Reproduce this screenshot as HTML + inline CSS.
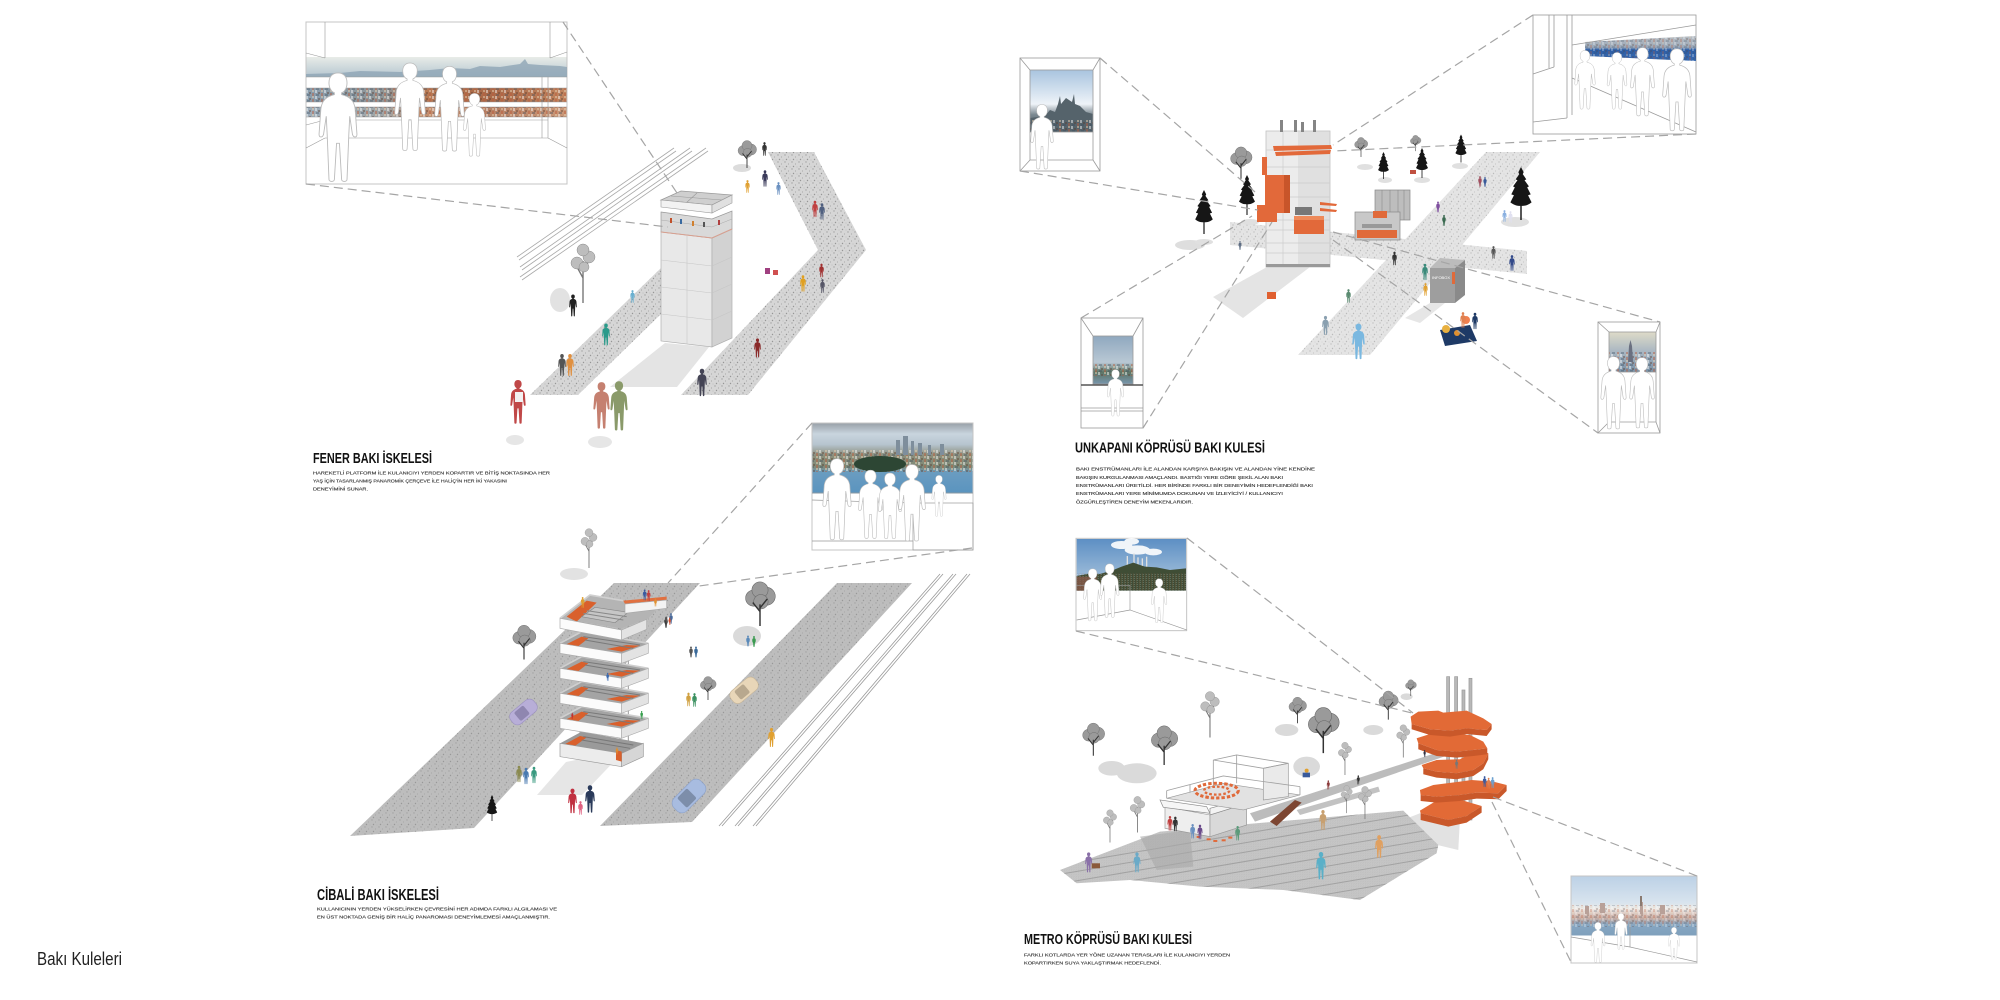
<!DOCTYPE html>
<html><head><meta charset="utf-8"><title>Bakı Kuleleri</title><style>
html,body{margin:0;padding:0;background:#fff;width:2000px;height:1000px;overflow:hidden}
svg{display:block}
.t{font-family:"Liberation Sans Narrow","Liberation Sans",sans-serif;font-weight:bold;fill:#111}
.d{font-family:"Liberation Sans Narrow","Liberation Sans",sans-serif;fill:#2e2e2e;stroke:#2e2e2e;stroke-width:.12}
.dash{stroke:#a5a5a5;stroke-width:1.2;stroke-dasharray:9 5;fill:none}
.fr{fill:none;stroke:#9a9a9a;stroke-width:.8}
</style></head><body>
<svg width="2000" height="1000" viewBox="0 0 2000 1000" xmlns="http://www.w3.org/2000/svg">
<defs>
<pattern id="spk" width="7" height="7" patternUnits="userSpaceOnUse"><circle cx="1" cy="1" r=".7" fill="#8a8a8a"/><circle cx="4.5" cy="3" r=".6" fill="#9a9a9a"/><circle cx="2.5" cy="5.5" r=".7" fill="#7a7a7a"/><circle cx="6" cy="6" r=".5" fill="#aaa"/></pattern>
<pattern id="city" width="9" height="6" patternUnits="userSpaceOnUse"><rect x="0" y="0" width="2" height="3" fill="#fff" opacity=".45"/><rect x="3" y="2" width="2" height="2" fill="#5a3a2a" opacity=".4"/><rect x="6" y="0" width="2" height="2" fill="#e8d0b0" opacity=".5"/><rect x="1" y="4" width="3" height="2" fill="#3a4a5a" opacity=".35"/><rect x="6" y="3" width="2" height="3" fill="#c05a3a" opacity=".45"/></pattern>
<symbol id="pp" viewBox="-1 -0.5 22 61.5"><path d="M10,0 C13,0 15,2 15,5.5 C15,8.5 13.5,10.5 12,11 L12,12 C16,13 19,15 19.5,20 L20.5,34 C20.5,36 18.5,36 18,34 L16.5,24 L16,34 L15,59 C15,60.5 12,60.5 12,59 L10.8,39 L9.2,39 L8,59 C8,60.5 5,60.5 5,59 L4,34 L3.5,24 L2,34 C1.5,36 -0.5,36 -0.5,34 L0.5,20 C1,15 4,13 8,12 L8,11 C6.5,10.5 5,8.5 5,5.5 C5,2 7,0 10,0 Z"/></symbol>
<symbol id="tg" viewBox="0 0 40 50"><g fill="#9a9a9a" stroke="#666" stroke-width=".6"><circle cx="13" cy="19" r="9"/><circle cx="27" cy="17" r="10"/><circle cx="20" cy="10" r="9"/><circle cx="21" cy="23" r="8"/></g><path d="M20 50 L20 26 M20 34 L12 24 M20 30 L28 20" stroke="#333" stroke-width="1.6" fill="none"/></symbol>
<symbol id="tb" viewBox="0 0 30 60"><path d="M15 60 L15 40" stroke="#111" stroke-width="1.6"/><path d="M15 0 L18 6 L17 8 L21 14 L19 15 L24 22 L22 23 L26 31 L23 32 L27 40 C22 44 18 44 15 44 C12 44 8 44 3 40 L7 32 L4 31 L8 23 L6 22 L11 15 L9 14 L13 8 L12 6Z" fill="#161616"/></symbol>
<symbol id="tl" viewBox="0 0 30 60"><path d="M15 60 L15 18 M15 35 L8 22 M15 28 L22 16" stroke="#777" stroke-width="1.4" fill="none"/><g fill="#bdbdbd" stroke="#8a8a8a" stroke-width=".5"><circle cx="9" cy="20" r="6"/><circle cx="21" cy="14" r="6"/><circle cx="15" cy="7" r="6"/><circle cx="16" cy="24" r="5"/></g></symbol>
<linearGradient id="fenSky" x1="0" y1="0" x2="0" y2="1"><stop offset="0" stop-color="#e8ece8"/><stop offset="1" stop-color="#b4c5d0"/></linearGradient>
<linearGradient id="fenCity" x1="0" y1="0" x2="1" y2="0"><stop offset="0" stop-color="#8a9eae"/><stop offset=".3" stop-color="#8e9496"/><stop offset=".45" stop-color="#b87a55"/><stop offset=".7" stop-color="#a86848"/><stop offset="1" stop-color="#c08560"/></linearGradient>
<linearGradient id="cibPhoto" x1="0" y1="0" x2="0" y2="1"><stop offset="0" stop-color="#9aa2aa"/><stop offset=".15" stop-color="#c9d5de"/><stop offset=".3" stop-color="#b6c4cf"/><stop offset=".45" stop-color="#8d8f7c"/><stop offset=".62" stop-color="#7d8a78"/><stop offset=".7" stop-color="#6a9cc0"/><stop offset="1" stop-color="#5a94bf"/></linearGradient>
<linearGradient id="metSky" x1="0" y1="0" x2="0" y2="1"><stop offset="0" stop-color="#5d8fc4"/><stop offset="1" stop-color="#b3cbe0"/></linearGradient>
<linearGradient id="ukL" x1="0" y1="0" x2="0" y2="1"><stop offset="0" stop-color="#a9c4df"/><stop offset=".55" stop-color="#eef3f8"/><stop offset=".72" stop-color="#7a8890"/><stop offset="1" stop-color="#4a5560"/></linearGradient>
<linearGradient id="ukBL" x1="0" y1="0" x2="0" y2="1"><stop offset="0" stop-color="#8fa8bf"/><stop offset=".55" stop-color="#b9c8d4"/><stop offset=".75" stop-color="#5d7565"/><stop offset="1" stop-color="#7896ad"/></linearGradient>
<linearGradient id="ukBR" x1="0" y1="0" x2="0" y2="1"><stop offset="0" stop-color="#dedbc8"/><stop offset=".5" stop-color="#a8b6c2"/><stop offset="1" stop-color="#7890a6"/></linearGradient>
<linearGradient id="ukTR" x1="0" y1="0" x2="0" y2="1"><stop offset="0" stop-color="#b8bec4"/><stop offset=".45" stop-color="#9aa8b8"/><stop offset=".55" stop-color="#2c5ea6"/><stop offset="1" stop-color="#3a6ab0"/></linearGradient>
<linearGradient id="metBR" x1="0" y1="0" x2="0" y2="1"><stop offset="0" stop-color="#bcd1e6"/><stop offset=".45" stop-color="#d9e4ee"/><stop offset=".55" stop-color="#efeae6"/><stop offset=".7" stop-color="#c9aca2"/><stop offset=".82" stop-color="#86a6c2"/><stop offset="1" stop-color="#7fa0bc"/></linearGradient>
<clipPath id="terr"><polygon points="30,1050 330,935 1060,872 1165,975 1160,1000 930,1140 700,1110 450,1100 240,1080 80,1090"/></clipPath>
</defs>
<rect width="2000" height="1000" fill="#fff"/>

<!-- ================= FENER ================= -->
<g stroke="#a8a8a8" stroke-width=".8" fill="none">
<line x1="517" y1="257" x2="674" y2="148"/><line x1="519" y1="260" x2="676" y2="151"/>
<line x1="520" y1="267" x2="690" y2="148"/><line x1="522" y1="270" x2="692" y2="151"/>
<line x1="520" y1="277" x2="706" y2="148"/><line x1="522" y1="280" x2="708" y2="151"/>
</g>
<polygon points="530,395 578,395 661,314 661,268" fill="#d6d6d6"/>
<polygon points="530,395 578,395 661,314 661,268" fill="url(#spk)" opacity=".7"/>
<polygon points="681,395 748,395 866,250 814,152 768,152 818,250" fill="#d6d6d6"/>
<polygon points="681,395 748,395 866,250 814,152 768,152 818,250" fill="url(#spk)" opacity=".7"/>
<polygon points="665,343 709,347 677,387 610,387" fill="#e4e4e4"/>
<ellipse cx="742" cy="168" rx="9" ry="4" fill="#dcdcdc"/>
<use href="#tg" x="733" y="140" width="28" height="28"/>
<ellipse cx="560" cy="300" rx="10" ry="12" fill="#e2e2e2"/>
<use href="#tl" x="568" y="243" width="30" height="60"/>
<!-- tower -->
<polygon points="661,232 712,238 712,347 661,341" fill="#e8e8e8" stroke="#b0b0b0" stroke-width=".7"/>
<polygon points="712,238 732,229 732,338 712,347" fill="#d2d2d2" stroke="#b0b0b0" stroke-width=".7"/>
<g stroke="#c6c6c6" stroke-width=".6"><line x1="687" y1="235" x2="687" y2="344"/><line x1="661" y1="260" x2="712" y2="266"/><line x1="661" y1="287" x2="712" y2="293"/><line x1="661" y1="314" x2="712" y2="320"/><line x1="712" y1="266" x2="732" y2="257"/><line x1="712" y1="293" x2="732" y2="284"/><line x1="712" y1="320" x2="732" y2="311"/></g>
<polygon points="661,212 712,219 732,211 732,229 712,238 661,232" fill="#d9d9d9" stroke="#999" stroke-width=".7"/>
<g stroke="#aaa" stroke-width=".5"><line x1="661" y1="220" x2="712" y2="227"/><line x1="712" y1="227" x2="732" y2="219"/></g>
<g><rect x="670" y="218" width="2" height="5" fill="#c0502a"/><rect x="680" y="219" width="2" height="5" fill="#3a6aa0"/><rect x="692" y="221" width="2" height="5" fill="#d08030"/><rect x="703" y="222" width="2" height="5" fill="#555"/><rect x="718" y="220" width="2" height="5" fill="#b04040"/></g>
<polyline points="661,232 712,238 732,229" fill="none" stroke="#d9a090" stroke-width="1"/>
<polygon points="661,200 681,191 732,195 712,205" fill="#cfcfcf" stroke="#999" stroke-width=".7"/>
<g stroke="#9a9a9a" stroke-width=".6"><line x1="671" y1="196" x2="722" y2="200"/><line x1="697" y1="193" x2="686" y2="203"/></g>
<polygon points="661,200 712,205 712,213 661,207" fill="#f2f2f2" stroke="#999" stroke-width=".6"/>
<polygon points="712,205 732,195 732,203 712,213" fill="#e0e0e0" stroke="#999" stroke-width=".6"/>
<!-- people -->
<g>
<use href="#pp" x="762" y="142" width="5" height="14" fill="#333"/>
<use href="#pp" x="762" y="170" width="6" height="17" fill="#3a3a5a"/>
<use href="#pp" x="745" y="180" width="5" height="13" fill="#e0a030"/>
<use href="#pp" x="776" y="182" width="5" height="13" fill="#6a90c0"/>
<use href="#pp" x="812" y="200" width="6" height="18" fill="#c04040"/>
<use href="#pp" x="819" y="203" width="6" height="17" fill="#506080"/>
<rect x="765" y="268" width="5" height="6" fill="#a04080"/><rect x="773" y="270" width="5" height="5" fill="#d05050"/>
<use href="#pp" x="800" y="275" width="6" height="17" fill="#e0a020"/>
<use href="#pp" x="819" y="263" width="5" height="15" fill="#a03030"/>
<use href="#pp" x="820" y="279" width="5" height="14" fill="#556"/>
<use href="#pp" x="754" y="337" width="7" height="22" fill="#8a2a2a"/>
<use href="#pp" x="630" y="290" width="5" height="13" fill="#6ab0d0"/>
<use href="#pp" x="602" y="322" width="8" height="25" fill="#2a9a8a"/>
<use href="#pp" x="569" y="293" width="8" height="25" fill="#222"/>
<use href="#pp" x="558" y="352" width="8" height="26" fill="#555"/>
<use href="#pp" x="566" y="352" width="8" height="26" fill="#e09040"/>
<use href="#pp" x="697" y="365" width="10" height="35" fill="#445"/>
<ellipse cx="515" cy="440" rx="9" ry="5" fill="#e6e6e6"/><ellipse cx="600" cy="442" rx="12" ry="6" fill="#e6e6e6"/>
<use href="#pp" x="510" y="377" width="16" height="50" fill="#c04848"/>
<rect x="515" y="392" width="8" height="10" fill="#f2f2f2"/>
<use href="#pp" x="593" y="378" width="17" height="55" fill="#c58070"/>
<use href="#pp" x="610" y="377" width="18" height="58" fill="#8a9a6a"/>
</g>
<!-- panorama box -->
<rect x="306" y="22" width="261" height="162" fill="#fff" stroke="#c4c4c4" stroke-width="1"/>
<rect x="306.5" y="57" width="260" height="20" fill="url(#fenSky)"/>
<path d="M306,74 L340,73 L360,71 L400,72 L430,70 L450,68 L470,69 L480,66 L500,67 L520,64 L525,59 L528,64 L540,65 L560,66 L567,67 L567,77 L306,77Z" fill="#8ea5b5" opacity=".8"/>
<rect x="306.5" y="88" width="260" height="14" fill="url(#fenCity)"/>
<rect x="306.5" y="88" width="260" height="14" fill="url(#city)"/>
<rect x="306.5" y="107" width="260" height="10" fill="url(#fenCity)" opacity=".85"/>
<rect x="306.5" y="107" width="260" height="10" fill="url(#city)"/>
<g stroke="#999" stroke-width=".6" fill="none">
<line x1="306" y1="77" x2="567" y2="77"/><line x1="306" y1="88" x2="567" y2="88"/><line x1="306" y1="102" x2="567" y2="102"/><line x1="306" y1="107" x2="567" y2="107"/><line x1="306" y1="117" x2="567" y2="117"/><line x1="325" y1="120" x2="548" y2="120"/><line x1="325" y1="138" x2="548" y2="138"/>
<line x1="325" y1="22" x2="325" y2="58"/><line x1="550" y1="22" x2="550" y2="58"/><line x1="306" y1="53" x2="325" y2="58"/><line x1="567" y1="52" x2="550" y2="58"/>
<line x1="542" y1="77" x2="542" y2="138"/><line x1="548" y1="77" x2="548" y2="138"/><line x1="548" y1="138" x2="567" y2="148"/><line x1="306" y1="125" x2="325" y2="120"/><line x1="306" y1="148" x2="325" y2="138"/>
</g>
<g fill="#fff" stroke="#bbb" stroke-width=".5">
<use href="#pp" x="318" y="72" width="40" height="111"/>
<use href="#pp" x="394" y="62" width="32" height="90"/>
<use href="#pp" x="434" y="65" width="31" height="88"/>
<use href="#pp" x="463" y="92" width="23" height="66"/>
</g>
<line class="dash" x1="563" y1="22" x2="677" y2="193"/>
<line class="dash" x1="306" y1="184" x2="668" y2="227"/>
<text class="t" x="313" y="463" font-size="15" textLength="119" lengthAdjust="spacingAndGlyphs">FENER BAKI İSKELESİ</text>
<text class="d" x="313" y="474.6" font-size="4.6" textLength="237" lengthAdjust="spacingAndGlyphs">HAREKETLİ PLATFORM İLE KULANICIYI YERDEN KOPARTIR VE BİTİŞ NOKTASINDA HER</text>
<text class="d" x="313" y="482.6" font-size="4.6" textLength="194" lengthAdjust="spacingAndGlyphs">YAŞ İÇİN TASARLANMIŞ PANAROMİK ÇERÇEVE İLE HALİÇ'İN HER İKİ YAKASINI</text>
<text class="d" x="313" y="490.6" font-size="4.6" textLength="55" lengthAdjust="spacingAndGlyphs">DENEYİMİNİ SUNAR.</text>

<!-- ================= CİBALİ ================= -->
<polygon points="614,583 700,583 474,828 350,836" fill="#bdbdbd"/>
<polygon points="614,583 700,583 474,828 350,836" fill="url(#spk)" opacity=".55"/>
<polygon points="837,583 912,583 692,822 600,826" fill="#bdbdbd"/>
<polygon points="837,583 912,583 692,822 600,826" fill="url(#spk)" opacity=".55"/>
<polygon points="566,762 625,750 582,795 537,795" fill="#e6e6e6"/>
<g stroke="#9a9a9a" stroke-width=".8"><line x1="940" y1="574" x2="719" y2="826"/><line x1="943" y1="574" x2="722" y2="826"/><line x1="953" y1="574" x2="735" y2="826"/><line x1="956" y1="574" x2="738" y2="826"/><line x1="967" y1="574" x2="753" y2="826"/><line x1="970" y1="574" x2="756" y2="826"/></g>
<g transform="rotate(-40 523 713)"><rect x="509" y="705" width="30" height="15" rx="6" fill="#b8aed8" stroke="#9a90c0" stroke-width=".6"/><rect x="516" y="707" width="12" height="11" rx="2" fill="#8f86b0"/></g>
<g transform="rotate(-40 744 691)"><rect x="729" y="683" width="31" height="15" rx="6" fill="#e8d6b8" stroke="#c8b698" stroke-width=".6"/><rect x="736" y="685" width="12" height="11" rx="2" fill="#b8a88e"/></g>
<g transform="rotate(-45 689 796)"><rect x="670" y="787" width="38" height="18" rx="7" fill="#a8bce0" stroke="#8aa0c8" stroke-width=".6"/><rect x="679" y="789" width="14" height="14" rx="2" fill="#7d8eaa"/></g>
<ellipse cx="574" cy="574" rx="14" ry="6" fill="#e2e2e2"/>
<use href="#tl" x="574" y="528" width="30" height="40"/>
<ellipse cx="747" cy="636" rx="14" ry="10" fill="#dadada"/>
<use href="#tg" x="737" y="581" width="46" height="45"/>
<use href="#tg" x="510" y="622" width="28" height="40"/>
<use href="#tg" x="694" y="676" width="28" height="24"/>
<use href="#tb" x="484" y="795" width="16" height="26"/>
<g>
<use href="#pp" x="516" y="764" width="6" height="20" fill="#8a8a50"/><use href="#pp" x="523" y="767" width="6" height="18" fill="#4a7ab0"/><use href="#pp" x="531" y="765" width="6" height="20" fill="#3a9a80"/>
<use href="#pp" x="568" y="786" width="9" height="30" fill="#c03040"/><use href="#pp" x="578" y="800" width="5" height="16" fill="#e06080"/><use href="#pp" x="585" y="782" width="10" height="34" fill="#2a3a5a"/>
<use href="#pp" x="689" y="645" width="4" height="14" fill="#555"/><use href="#pp" x="694" y="645" width="4" height="14" fill="#3a6a9a"/>
<use href="#pp" x="686" y="691" width="5" height="17" fill="#d0a040"/><use href="#pp" x="692" y="692" width="5" height="16" fill="#3a9060"/>
<use href="#pp" x="768" y="727" width="7" height="21" fill="#e0a030"/>
<use href="#pp" x="746" y="634" width="4" height="14" fill="#5a8aba"/><use href="#pp" x="752" y="635" width="4" height="13" fill="#3a9a50"/>
<use href="#pp" x="669" y="613" width="4" height="11" fill="#4a6a9a"/><use href="#pp" x="664" y="617" width="4" height="11" fill="#333"/>
</g>
<!-- tower -->
<g transform="translate(540,580) scale(.3333)">
<g stroke="#9a9a9a" stroke-width="3"><line x1="120" y1="110" x2="120" y2="500"/><line x1="265" y1="90" x2="265" y2="500"/><line x1="240" y1="140" x2="240" y2="520"/></g>
<polygon points="60,490 125,455 310,490 245,520" fill="#9a9a9a"/>
<polygon points="70,495 120,468 140,472 95,505" fill="#d9602c"/>
<path d="M130,470 L280,495 M125,480 L270,505" stroke="#777" stroke-width="3"/>
<polygon points="60,490 245,520 245,560 60,530" fill="#ececec" stroke="#999" stroke-width="2"/>
<polygon points="245,520 310,490 310,530 245,560" fill="#d6d6d6" stroke="#999" stroke-width="2"/>
<polygon points="228,510 245,515 245,545 228,540" fill="#d9602c"/>
<g id="lv">
<polygon points="60,415 125,380 325,415 245,445" fill="#a4a4a4"/>
<polygon points="75,420 125,395 145,400 100,435" fill="#d9602c"/>
<polygon points="200,432 260,420 300,422 245,440" fill="#d9602c"/>
<path d="M130,395 L300,420 M135,405 L280,430" stroke="#7a7a7a" stroke-width="3"/>
<polyline points="60,415 125,380 325,415" fill="none" stroke="#cfcfcf" stroke-width="5"/>
<polygon points="60,415 245,445 245,475 60,445" fill="#fbfbfb" stroke="#aaa" stroke-width="2"/>
<polygon points="245,445 325,415 325,445 245,475" fill="#e3e3e3" stroke="#aaa" stroke-width="2"/>
</g>
<use href="#lv" y="-75"/>
<use href="#lv" y="-150"/>
<use href="#lv" y="-225"/>
<polygon points="60,115 150,45 250,62 380,55 325,115 245,145" fill="#b4b4b4"/>
<polygon points="80,110 140,62 170,68 110,125" fill="#d9602c"/>
<polygon points="125,110 165,82 265,97 225,128" fill="#c6c6c6" stroke="#888" stroke-width="2"/>
<path d="M130,100 L250,120 M140,92 L260,110" stroke="#888" stroke-width="3"/>
<polyline points="60,115 150,45 250,62" fill="none" stroke="#d0d0d0" stroke-width="5"/>
<polygon points="250,62 380,50 380,60 255,72" fill="#e07040"/>
<polygon points="255,72 380,60 380,85 255,100" fill="#f3f3f3" stroke="#aaa" stroke-width="2"/>
<polygon points="60,115 245,150 245,180 60,145" fill="#fbfbfb" stroke="#aaa" stroke-width="2"/>
<polygon points="245,150 320,118 320,148 245,180" fill="#e3e3e3" stroke="#aaa" stroke-width="2"/>
<use href="#pp" x="122" y="50" width="12" height="35" fill="#e0a030"/>
<use href="#pp" x="308" y="28" width="12" height="34" fill="#3a5aa0"/>
<use href="#pp" x="320" y="30" width="12" height="34" fill="#c04040"/>
<use href="#pp" x="342" y="55" width="9" height="25" fill="#e09030"/>
<use href="#pp" x="198" y="278" width="10" height="25" fill="#3a6ab0"/>
<use href="#pp" x="300" y="393" width="10" height="25" fill="#3aa050"/>
<use href="#pp" x="92" y="398" width="10" height="20" fill="#c03030"/>
<use href="#pp" x="226" y="502" width="10" height="22" fill="#e09030"/>
<use href="#pp" x="375" y="105" width="8" height="32" fill="#555"/>
<use href="#pp" x="385" y="110" width="8" height="28" fill="#d05030"/>
</g>
<!-- panorama box -->
<rect x="812" y="423" width="161" height="127" fill="#fff" stroke="#c4c4c4" stroke-width="1"/>
<rect x="812.5" y="423.5" width="160" height="70" fill="url(#cibPhoto)"/>
<rect x="812.5" y="450" width="160" height="22" fill="url(#city)"/>
<g fill="#7e8e9c"><rect x="896" y="440" width="4" height="15"/><rect x="903" y="436" width="5" height="19"/><rect x="911" y="441" width="3" height="14"/><rect x="918" y="443" width="4" height="12"/><rect x="928" y="445" width="3" height="10"/><rect x="940" y="444" width="4" height="11"/></g>
<ellipse cx="880" cy="464" rx="26" ry="8" fill="#2d4634"/>
<g stroke="#999" stroke-width=".7" fill="none"><line x1="812" y1="493" x2="973" y2="493"/><rect x="913" y="503" width="60" height="47"/><line x1="812" y1="541" x2="913" y2="541"/><line x1="812" y1="500" x2="913" y2="503"/></g>
<g fill="#fff" stroke="#bbb" stroke-width=".5">
<use href="#pp" x="822" y="458" width="30" height="83"/>
<use href="#pp" x="858" y="468" width="25" height="73"/>
<use href="#pp" x="878" y="471" width="24" height="70"/>
<use href="#pp" x="898" y="462" width="28" height="82"/>
<use href="#pp" x="930" y="475" width="18" height="42"/>
</g>
<line class="dash" x1="812" y1="423" x2="668" y2="583"/>
<line class="dash" x1="972" y1="548" x2="699" y2="586"/>
<text class="t" x="317" y="900" font-size="15.5" textLength="122" lengthAdjust="spacingAndGlyphs">CİBALİ BAKI İSKELESİ</text>
<text class="d" x="317" y="910.5" font-size="4.8" textLength="240" lengthAdjust="spacingAndGlyphs">KULLANICININ YERDEN YÜKSELİRKEN ÇEVRESİNİ HER ADIMDA FARKLI ALGILAMASI VE</text>
<text class="d" x="317" y="918.5" font-size="4.8" textLength="233" lengthAdjust="spacingAndGlyphs">EN ÜST NOKTADA GENİŞ BİR HALİÇ PANAROMASI DENEYİMLEMESİ AMAÇLANMIŞTIR.</text>

<!-- ================= UNKAPANI ================= -->
<polygon points="1298,355 1370,355 1540,152 1486,152" fill="#e4e4e4"/>
<polygon points="1298,355 1370,355 1540,152 1486,152" fill="url(#spk)" opacity=".4"/>
<polygon points="1230,222 1527,251 1527,274 1230,245" fill="#e4e4e4"/>
<polygon points="1230,222 1527,251 1527,274 1230,245" fill="url(#spk)" opacity=".4"/>
<ellipse cx="1190" cy="245" rx="15" ry="5" fill="#dedede"/>
<polygon points="1213,297 1267,267 1310,267 1243,318" fill="#e4e4e4"/>
<polygon points="1405,318 1430,303 1445,303 1420,323" fill="#e6e6e6"/>
<g fill="#e0e0e0"><ellipse cx="1204" cy="242" rx="9" ry="3"/><ellipse cx="1250" cy="222" rx="9" ry="3"/><ellipse cx="1365" cy="167" rx="8" ry="3"/><ellipse cx="1385" cy="180" rx="7" ry="3"/><ellipse cx="1422" cy="180" rx="8" ry="3"/><ellipse cx="1460" cy="166" rx="8" ry="3"/><ellipse cx="1515" cy="222" rx="14" ry="5"/></g>
<use href="#tb" x="1193" y="183" width="22" height="58"/>
<use href="#tb" x="1237" y="170" width="20" height="50"/>
<use href="#tb" x="1376" y="152" width="15" height="27"/>
<use href="#tb" x="1412" y="148" width="20" height="30"/>
<use href="#tb" x="1454" y="132" width="14" height="33"/>
<use href="#tb" x="1502" y="167" width="38" height="53"/>
<use href="#tg" x="1228" y="145" width="26" height="35"/>
<use href="#tg" x="1353" y="130" width="16" height="34"/>
<use href="#tg" x="1409" y="132" width="13" height="22"/>
<!-- tower -->
<rect x="1266" y="131" width="64" height="136" fill="#ececec" stroke="#c2c2c2" stroke-width=".8"/>
<rect x="1298" y="131.5" width="31.5" height="135" fill="#e0e0e0"/>
<g stroke="#cdcdcd" stroke-width=".7"><line x1="1266" y1="150" x2="1330" y2="150"/><line x1="1266" y1="167" x2="1330" y2="167"/><line x1="1266" y1="183" x2="1330" y2="183"/><line x1="1266" y1="197" x2="1330" y2="197"/><line x1="1266" y1="220" x2="1330" y2="220"/><line x1="1266" y1="230" x2="1330" y2="230"/><line x1="1266" y1="243" x2="1330" y2="243"/><line x1="1266" y1="253" x2="1330" y2="253"/><line x1="1283" y1="131" x2="1283" y2="267"/></g>
<rect x="1266" y="264" width="64" height="3" fill="#999"/>
<g fill="#858585"><rect x="1280" y="120" width="3" height="12"/><rect x="1294" y="120" width="3" height="12"/><rect x="1301" y="122" width="3" height="10"/><rect x="1313" y="120" width="3" height="12"/></g>
<g fill="#e2693a"><polygon points="1273,146 1331,145 1332,149 1274,151"/><polygon points="1275,152 1331,150 1330,154 1276,156"/>
<rect x="1262" y="157" width="5" height="18"/><rect x="1265" y="175" width="25" height="38"/><rect x="1257" y="205" width="20" height="17"/><rect x="1294" y="216" width="30" height="18"/><polygon points="1320,202 1337,204 1336,206 1320,205"/><polygon points="1320,208 1337,210 1336,212 1320,211"/></g>
<rect x="1284" y="175" width="6" height="38" fill="#c8552a"/>
<rect x="1294" y="216" width="30" height="4" fill="#ee8a5a"/>
<rect x="1295" y="207" width="17" height="8" fill="#777"/>
<!-- kiosk -->
<rect x="1375" y="190" width="35" height="30" fill="#bdbdbd" stroke="#888" stroke-width=".7"/>
<g stroke="#8a8a8a" stroke-width=".6"><line x1="1382" y1="190" x2="1382" y2="220"/><line x1="1390" y1="190" x2="1390" y2="220"/><line x1="1398" y1="190" x2="1398" y2="220"/><line x1="1404" y1="190" x2="1404" y2="220"/></g>
<rect x="1355" y="212" width="45" height="28" fill="#c8c8c8" stroke="#888" stroke-width=".7"/>
<rect x="1373" y="211" width="14" height="7" fill="#e06a3a"/>
<rect x="1357" y="230" width="40" height="8" fill="#e06a3a"/>
<rect x="1362" y="224" width="30" height="4" fill="#999"/>
<!-- infobox -->
<polygon points="1430,268 1440,258 1465,260 1455,268" fill="#bcbcbc"/>
<rect x="1430" y="268" width="25" height="35" fill="#9e9e9e"/>
<polygon points="1455,268 1465,260 1465,295 1455,303" fill="#8a8a8a"/>
<rect x="1452" y="272" width="3" height="12" fill="#e06a3a"/>
<text x="1432" y="279" font-family="Liberation Sans, sans-serif" font-size="4" fill="#fff">INFOBOX</text>
<polygon points="1440,330 1470,325 1477,341 1445,346" fill="#1e3a66"/>
<circle cx="1446" cy="329" r="4" fill="#e8b040"/><circle cx="1457" cy="333" r="3" fill="#e09030"/><circle cx="1466" cy="320" r="4" fill="#f08050"/>
<use href="#pp" x="1472" y="310" width="6" height="22" fill="#1e3a66"/>
<use href="#pp" x="1460" y="312" width="6" height="16" fill="#e08050"/>
<g>
<use href="#pp" x="1352" y="323" width="13" height="37" fill="#7ab8e0"/>
<use href="#pp" x="1322" y="313" width="7" height="25" fill="#8aa0b0"/>
<use href="#pp" x="1346" y="287" width="5" height="18" fill="#5a8a70"/>
<use href="#pp" x="1392" y="251" width="5" height="15" fill="#333"/>
<use href="#pp" x="1422" y="262" width="6" height="20" fill="#3a8a7a"/>
<use href="#pp" x="1423" y="283" width="5" height="13" fill="#e0a030"/>
<use href="#pp" x="1491" y="246" width="5" height="13" fill="#555"/>
<use href="#pp" x="1509" y="255" width="6" height="16" fill="#334a8a"/>
<use href="#pp" x="1442" y="214" width="4" height="13" fill="#3a6a50"/>
<use href="#pp" x="1436" y="201" width="4" height="12" fill="#8050a0"/>
<use href="#pp" x="1478" y="176" width="4" height="11" fill="#a05060"/><use href="#pp" x="1483" y="177" width="4" height="10" fill="#3a5a9a"/>
<use href="#pp" x="1502" y="210" width="5" height="12" fill="#8ab0e0"/><use href="#pp" x="1508" y="211" width="5" height="12" fill="#e0e0f0"/>
<use href="#pp" x="1238" y="241" width="4" height="9" fill="#5a6a80"/>
<rect x="1267" y="292" width="9" height="7" fill="#e06030"/>
<rect x="1410" y="170" width="6" height="4" fill="#c05040"/>
</g>
<!-- windows -->
<rect x="1020" y="58" width="80" height="113" fill="#fff" stroke="#999" stroke-width=".8"/>
<rect x="1030" y="70" width="63" height="62" fill="url(#ukL)"/>
<path d="M1030,118 L1045,116 L1050,110 L1055,112 L1058,104 L1060,96 L1061,104 L1066,98 L1072,102 L1074,94 L1075,104 L1080,106 L1086,112 L1093,114 L1093,132 L1030,132Z" fill="#55636b"/>
<rect x="1030" y="120" width="63" height="12" fill="url(#city)"/>
<g class="fr"><rect x="1030" y="70" width="63" height="62"/><line x1="1020" y1="58" x2="1030" y2="70"/><line x1="1100" y1="58" x2="1093" y2="70"/><line x1="1030" y1="132" x2="1030" y2="160"/><line x1="1093" y1="132" x2="1093" y2="160"/><line x1="1030" y1="160" x2="1093" y2="160"/><line x1="1020" y1="171" x2="1030" y2="160"/><line x1="1100" y1="171" x2="1093" y2="160"/></g>
<use href="#pp" x="1030" y="104" width="24" height="66" fill="#fff" stroke="#bbb" stroke-width=".5"/>
<rect x="1533" y="15" width="163" height="119" fill="#fff" stroke="#999" stroke-width=".8"/>
<polygon points="1585,42 1696,36 1696,61 1585,56" fill="url(#ukTR)"/>
<polygon points="1585,42 1696,36 1696,61 1585,56" fill="url(#city)" opacity=".6"/>
<g class="fr"><line x1="1549" y1="15" x2="1549" y2="68"/><line x1="1554" y1="15" x2="1554" y2="67"/><line x1="1533" y1="74" x2="1554" y2="67"/><line x1="1567" y1="15" x2="1567" y2="118"/><line x1="1572" y1="15" x2="1572" y2="115"/><line x1="1533" y1="122" x2="1567" y2="118"/><line x1="1572" y1="78" x2="1696" y2="132"/><line x1="1572" y1="45" x2="1696" y2="25"/></g>
<g fill="#fff" stroke="#bbb" stroke-width=".5">
<use href="#pp" x="1574" y="50" width="22" height="60"/>
<use href="#pp" x="1606" y="52" width="22" height="58"/>
<use href="#pp" x="1630" y="47" width="25" height="70"/>
<use href="#pp" x="1662" y="48" width="30" height="84"/>
</g>
<rect x="1081" y="318" width="62" height="110" fill="#fff" stroke="#999" stroke-width=".8"/>
<rect x="1093" y="336" width="40" height="48" fill="url(#ukBL)"/>
<rect x="1093" y="364" width="40" height="12" fill="url(#city)"/>
<g class="fr"><rect x="1093" y="336" width="40" height="48"/><line x1="1081" y1="318" x2="1093" y2="336"/><line x1="1143" y1="318" x2="1133" y2="336"/><line x1="1081" y1="408" x2="1143" y2="408"/><line x1="1081" y1="411" x2="1143" y2="411"/></g>
<line x1="1081" y1="385" x2="1143" y2="385" stroke="#555" stroke-width="1.5"/>
<use href="#pp" x="1107" y="369" width="17" height="48" fill="#fff" stroke="#bbb" stroke-width=".5"/>
<rect x="1598" y="322" width="62" height="111" fill="#fff" stroke="#999" stroke-width=".8"/>
<rect x="1609" y="332" width="47" height="40" fill="url(#ukBR)"/>
<rect x="1609" y="352" width="47" height="20" fill="url(#city)"/>
<path d="M1628,362 L1629,346 L1630.5,340 L1632,346 L1633,362Z" fill="#6a7080"/>
<g class="fr"><rect x="1609" y="332" width="47" height="40"/><line x1="1598" y1="322" x2="1609" y2="332"/><line x1="1660" y1="322" x2="1656" y2="332"/><line x1="1609" y1="372" x2="1609" y2="422"/><line x1="1656" y1="372" x2="1656" y2="422"/><line x1="1598" y1="433" x2="1609" y2="422"/><line x1="1660" y1="433" x2="1656" y2="422"/><line x1="1609" y1="422" x2="1656" y2="422"/></g>
<g fill="#fff" stroke="#bbb" stroke-width=".5"><use href="#pp" x="1600" y="356" width="27" height="74"/><use href="#pp" x="1629" y="357" width="26" height="72"/></g>
<line class="dash" x1="1100" y1="58" x2="1255" y2="192"/>
<line class="dash" x1="1020" y1="171" x2="1258" y2="210"/>
<line class="dash" x1="1081" y1="318" x2="1252" y2="216"/>
<line class="dash" x1="1143" y1="428" x2="1272" y2="222"/>
<line class="dash" x1="1533" y1="15" x2="1333" y2="145"/>
<line class="dash" x1="1696" y1="134" x2="1333" y2="151"/>
<line class="dash" x1="1333" y1="232" x2="1660" y2="322"/>
<line class="dash" x1="1333" y1="240" x2="1598" y2="433"/>
<text class="t" x="1075" y="452.5" font-size="14.5" textLength="190" lengthAdjust="spacingAndGlyphs">UNKAPANI KÖPRÜSÜ BAKI KULESİ</text>
<text class="d" x="1076" y="470.6" font-size="4.8" textLength="239" lengthAdjust="spacingAndGlyphs">BAKI ENSTRÜMANLARI İLE ALANDAN KARŞIYA BAKIŞIN VE ALANDAN YİNE KENDİNE</text>
<text class="d" x="1076" y="478.8" font-size="4.8" textLength="207" lengthAdjust="spacingAndGlyphs">BAKIŞIN KURGULANMASI AMAÇLANDI. BASTIĞI YERE GÖRE ŞEKİL ALAN BAKI</text>
<text class="d" x="1076" y="487" font-size="4.8" textLength="237" lengthAdjust="spacingAndGlyphs">ENSTRÜMANLARI ÜRETİLDİ. HER BİRİNDE FARKLI BİR DENEYİMİN HEDEFLENDİĞİ BAKI</text>
<text class="d" x="1076" y="495.2" font-size="4.8" textLength="207" lengthAdjust="spacingAndGlyphs">ENSTRÜMANLARI YERE MİNİMUMDA DOKUNAN VE İZLEYİCİYİ / KULLANICIYI</text>
<text class="d" x="1076" y="503.4" font-size="4.8" textLength="117" lengthAdjust="spacingAndGlyphs">ÖZGÜRLEŞTİREN DENEYİM MEKENLARIDIR.</text>

<!-- ================= METRO ================= -->
<g transform="translate(1050,520) scale(.3333)">
<polygon points="1020,915 1110,880 1230,895 1225,990 1100,960 1040,940" fill="#e2e2e2"/>
<g fill="#dadada"><ellipse cx="185" cy="745" rx="40" ry="22"/><ellipse cx="260" cy="760" rx="60" ry="30"/><ellipse cx="710" cy="630" rx="35" ry="18"/><ellipse cx="770" cy="740" rx="40" ry="30"/><ellipse cx="970" cy="630" rx="30" ry="15"/><ellipse cx="1070" cy="530" rx="18" ry="10"/></g>
<polygon points="30,1050 330,935 1060,872 1165,975 1160,1000 930,1140 700,1110 450,1100 240,1080 80,1090" fill="#c6c6c6"/>
<polygon points="30,1050 330,935 1060,872 1165,975 1160,1000 930,1140 700,1110 450,1100 240,1080 80,1090" fill="url(#spk)" opacity=".5"/>
<g clip-path="url(#terr)" stroke="#a2a2a2" stroke-width="3">
<line x1="0" y1="1040" x2="1200" y2="836"/><line x1="0" y1="1068" x2="1200" y2="864"/><line x1="0" y1="1096" x2="1200" y2="892"/><line x1="0" y1="1124" x2="1200" y2="920"/><line x1="0" y1="1152" x2="1200" y2="948"/><line x1="0" y1="1180" x2="1200" y2="976"/><line x1="0" y1="1208" x2="1200" y2="1004"/><line x1="0" y1="1236" x2="1200" y2="1032"/><line x1="0" y1="1264" x2="1200" y2="1060"/><line x1="0" y1="1292" x2="1200" y2="1088"/>
</g>
<polygon points="270,950 420,930 430,1040 320,1050" fill="#a9a9a9" opacity=".6"/>
<polygon points="740,870 985,800 990,815 750,885" fill="#c2c2c2"/>
<polygon points="600,880 1170,695 1182,710 615,905" fill="#bcbcbc"/>
<use href="#tg" x="90" y="600" width="80" height="115"/>
<use href="#tg" x="270" y="615" width="145" height="120"/>
<use href="#tl" x="445" y="490" width="70" height="185"/>
<use href="#tg" x="695" y="530" width="95" height="80"/>
<use href="#tg" x="745" y="560" width="150" height="140"/>
<use href="#tg" x="980" y="505" width="70" height="100"/>
<use href="#tg" x="1055" y="478" width="55" height="50"/>
<use href="#tl" x="860" y="660" width="50" height="110"/>
<use href="#tl" x="1035" y="605" width="50" height="115"/>
<use href="#tl" x="155" y="865" width="50" height="105"/>
<use href="#tl" x="235" y="825" width="55" height="115"/>
<use href="#tl" x="865" y="795" width="50" height="85"/>
<use href="#tl" x="920" y="795" width="50" height="105"/>
<polygon points="345,860 480,885 480,950 345,925" fill="#eeeeee" stroke="#999" stroke-width="2"/>
<polygon points="480,885 590,850 590,915 480,950" fill="#d9d9d9" stroke="#999" stroke-width="2"/>
<polygon points="330,840 470,860 480,880 340,862" fill="#f6f6f6" stroke="#888" stroke-width="2"/>
<polygon points="480,865 580,838 592,850 480,885" fill="#f3f3f3" stroke="#888" stroke-width="2"/>
<polygon points="350,835 520,790 750,825 580,870" fill="#e2e2e2" stroke="#999" stroke-width="2"/>
<polygon points="640,745 715,730 715,830 640,840" fill="#eaeaea" stroke="#999" stroke-width="2"/>
<g stroke="#a0a0a0" stroke-width="2.5" fill="none"><polyline points="350,812 520,768 750,800"/><polyline points="490,720 560,705 715,730 640,745 490,720"/><line x1="490" y1="720" x2="490" y2="800"/><line x1="560" y1="705" x2="560" y2="790"/><line x1="350" y1="812" x2="350" y2="835"/><line x1="420" y1="794" x2="420" y2="818"/><line x1="750" y1="800" x2="750" y2="825"/></g>
<ellipse cx="500" cy="812" rx="65" ry="22" fill="none" stroke="#e06a3a" stroke-width="9" stroke-dasharray="10 6"/>
<ellipse cx="500" cy="812" rx="38" ry="12" fill="none" stroke="#e06a3a" stroke-width="7" stroke-dasharray="8 6"/>
<g fill="#e06a3a"><rect x="470" y="955" width="12" height="6"/><rect x="490" y="960" width="12" height="6"/><rect x="515" y="958" width="12" height="6"/><rect x="535" y="950" width="12" height="6"/><rect x="440" y="948" width="10" height="6"/></g>
<polygon points="660,905 735,840 755,848 680,918" fill="#7d4632"/>
<g fill="#b8b8b8" stroke="#999" stroke-width="2"><rect x="1190" y="470" width="9" height="430"/><rect x="1214" y="470" width="9" height="430"/><rect x="1236" y="510" width="9" height="390"/><rect x="1257" y="475" width="9" height="425"/></g>
<polygon points="1110,872 1160,842 1240,842 1295,858 1250,888 1195,900 1112,880" fill="#e26a36"/>
<polygon points="1112,880 1195,900 1250,888 1295,858 1295,878 1250,908 1195,920 1112,900" fill="#c9582a"/>
<polygon points="1110,810 1150,795 1230,785 1265,780 1330,785 1370,795 1345,820 1280,818 1230,825 1160,830 1112,825" fill="#e26a36"/>
<polygon points="1112,825 1160,830 1230,825 1280,818 1345,820 1370,795 1370,813 1345,838 1280,836 1230,843 1160,848 1112,843" fill="#c9582a"/>
<polygon points="1115,735 1160,720 1230,718 1280,690 1315,700 1300,730 1270,750 1220,760 1160,755 1120,745" fill="#e26a36"/>
<polygon points="1120,745 1160,755 1220,760 1270,750 1300,730 1315,700 1315,718 1300,748 1270,768 1220,778 1160,773 1120,763" fill="#c9582a"/>
<polygon points="1100,655 1140,642 1210,640 1260,645 1300,665 1312,685 1270,690 1220,695 1160,690 1105,670" fill="#e26a36"/>
<polygon points="1105,670 1160,690 1220,695 1270,690 1312,685 1312,703 1270,708 1220,713 1160,708 1105,688" fill="#c9582a"/>
<polygon points="1082,590 1105,575 1165,572 1180,578 1250,572 1300,595 1325,612 1310,630 1250,625 1200,632 1140,628 1085,612" fill="#e26a36"/>
<polygon points="1085,612 1140,628 1200,632 1250,625 1310,630 1325,612 1325,628 1310,648 1250,642 1200,650 1140,645 1085,628" fill="#c9582a"/>
<use href="#pp" x="1298" y="765" width="12" height="40" fill="#3a5aa0"/><use href="#pp" x="1310" y="770" width="12" height="40" fill="#e08050"/><use href="#pp" x="1322" y="768" width="12" height="40" fill="#6aa0d0"/>
<use href="#pp" x="1215" y="718" width="10" height="30" fill="#777"/>
<use href="#pp" x="105" y="995" width="22" height="65" fill="#8a70a8"/>
<rect x="125" y="1030" width="25" height="15" fill="#8a5a3a"/>
<use href="#pp" x="250" y="990" width="22" height="75" fill="#6aaac8"/>
<use href="#pp" x="352" y="885" width="16" height="50" fill="#c04040"/><use href="#pp" x="368" y="888" width="16" height="48" fill="#333"/>
<use href="#pp" x="420" y="908" width="16" height="52" fill="#6a90c0"/><use href="#pp" x="442" y="910" width="16" height="52" fill="#6a4a8a"/>
<use href="#pp" x="555" y="915" width="16" height="50" fill="#5a9a7a"/>
<use href="#pp" x="808" y="868" width="22" height="65" fill="#c8a070"/>
<use href="#pp" x="975" y="940" width="25" height="80" fill="#e0a060"/>
<use href="#pp" x="798" y="995" width="30" height="85" fill="#5ab0c8"/>
<rect x="758" y="758" width="22" height="14" fill="#3a5a9a"/><circle cx="770" cy="752" r="6" fill="#e0a030"/>
<use href="#pp" x="830" y="780" width="10" height="30" fill="#8a3a3a"/>
<use href="#pp" x="920" y="765" width="10" height="30" fill="#333"/>
<use href="#pp" x="1120" y="690" width="8" height="22" fill="#334"/>
<rect x="78" y="55" width="332" height="277" fill="#fff" stroke="#c4c4c4" stroke-width="3"/>
<rect x="80" y="57" width="328" height="155" fill="url(#metSky)"/>
<g fill="#fff" opacity=".9"><ellipse cx="215" cy="75" rx="32" ry="12"/><ellipse cx="262" cy="90" rx="38" ry="14"/><ellipse cx="310" cy="96" rx="26" ry="10"/><ellipse cx="245" cy="64" rx="22" ry="10"/></g>
<g stroke="#e0e0e0" stroke-width="4"><line x1="232" y1="108" x2="232" y2="150"/><line x1="252" y1="100" x2="252" y2="150"/><line x1="264" y1="112" x2="264" y2="150"/><line x1="277" y1="115" x2="277" y2="150"/><line x1="290" y1="110" x2="290" y2="150"/></g>
<path d="M80,168 L120,160 L150,162 L190,150 L215,140 L250,128 L285,140 L320,142 L360,150 L408,145 L408,212 L80,212Z" fill="#3f4d35"/>
<rect x="80" y="160" width="328" height="52" fill="url(#city)" opacity=".6"/>
<rect x="80" y="170" width="60" height="42" fill="#8a5a4a" opacity=".75"/>
<g stroke="#999" stroke-width="2" fill="none"><line x1="80" y1="197" x2="240" y2="197"/><line x1="240" y1="195" x2="240" y2="270"/><polyline points="80,300 240,270 410,330"/></g>
<g fill="#fff" stroke="#bbb" stroke-width=".5"><use href="#pp" x="98" y="145" width="60" height="160"/><use href="#pp" x="148" y="130" width="62" height="165"/><use href="#pp" x="300" y="175" width="55" height="135"/></g>
</g>
<rect x="1571" y="876" width="126" height="87" fill="#fff" stroke="#c4c4c4" stroke-width="1"/>
<rect x="1571.5" y="876.5" width="125" height="59" fill="url(#metBR)"/>
<rect x="1571.5" y="905" width="125" height="22" fill="url(#city)" opacity=".6"/>
<g fill="#b8a098"><rect x="1585" y="906" width="4" height="8"/><rect x="1600" y="903" width="5" height="10"/><rect x="1640" y="902" width="3" height="12"/><rect x="1660" y="905" width="5" height="9"/></g>
<rect x="1640" y="896" width="2" height="10" fill="#8a7a70"/>
<g stroke="#999" stroke-width=".7" fill="none"><line x1="1630" y1="918" x2="1630" y2="947"/><line x1="1571" y1="937" x2="1630" y2="947"/><line x1="1630" y1="947" x2="1697" y2="962"/></g>
<g fill="#fff" stroke="#bbb" stroke-width=".5"><use href="#pp" x="1590" y="922" width="16" height="41"/><use href="#pp" x="1613" y="913" width="16" height="37"/><use href="#pp" x="1667" y="927" width="14" height="33"/></g>
<line class="dash" x1="1187" y1="538" x2="1413" y2="713"/>
<line class="dash" x1="1076" y1="631" x2="1412" y2="713"/>
<line class="dash" x1="1493" y1="797" x2="1697" y2="876"/>
<line class="dash" x1="1492" y1="802" x2="1571" y2="962"/>
<text class="t" x="1024" y="944" font-size="15" textLength="168" lengthAdjust="spacingAndGlyphs">METRO KÖPRÜSÜ BAKI KULESİ</text>
<text class="d" x="1024" y="956.5" font-size="4.8" textLength="206" lengthAdjust="spacingAndGlyphs">FARKLI KOTLARDA YER YÖNE UZANAN TERASLARI  İLE KULANICIYI YERDEN</text>
<text class="d" x="1024" y="964.5" font-size="4.8" textLength="137" lengthAdjust="spacingAndGlyphs">KOPARTIRKEN SUYA YAKLAŞTIRMAK HEDEFLENDİ.</text>

<text x="37" y="965" font-family="Liberation Sans Narrow, Liberation Sans, sans-serif" font-size="18" fill="#222" textLength="85" lengthAdjust="spacingAndGlyphs">Bakı Kuleleri</text>
</svg>
</body></html>
